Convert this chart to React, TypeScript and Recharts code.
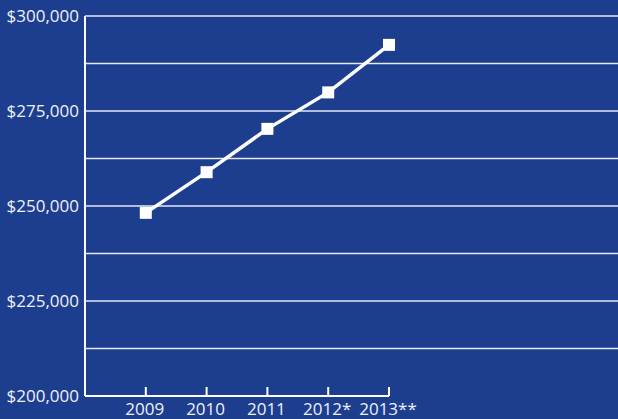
import { LineChart, Line, XAxis, YAxis, ReferenceLine } from 'recharts';

const years = ['2009', '2010', '2011', '2012*', '2013**'];
const values = [248200, 258900, 270300, 279900, 292400];
const yTicks = [200000, 212500, 225000, 237500, 250000, 262500, 275000, 287500, 300000];
const gridValues = [212500, 225000, 237500, 250000, 262500, 275000, 287500, 300000];

const data = years.map((label, i) => ({ x: i + 1, label, value: values[i] }));

const BG = '#1d3e8e';
const INK = '#eef1f8';
const FONT = '"Open Sans", Lato, sans-serif';

// tick mark points up into the plot, label hangs below the axis
function YearTick(props: any) {
  const { x, y, payload } = props;
  return (
    <g>
      <line x1={x} x2={x} y1={y} y2={y - 9} stroke="#ffffff" strokeWidth={2} />
      <text
        x={x - 1}
        y={y + 7}
        dy="0.71em"
        textAnchor="middle"
        fill={INK}
        style={{ fontSize: 17, fontFamily: FONT }}
      >
        {years[payload.value - 1]}
      </text>
    </g>
  );
}

function SquareDot(props: any) {
  const { cx, cy } = props;
  if (cx == null || cy == null) return null;
  return <rect x={cx - 6} y={cy - 6} width={12} height={12} fill="#ffffff" />;
}

export default function App() {
  return (
    <div style={{ position: 'absolute', left: 0, top: 0, width: 618, height: 419, background: BG }}>
      <LineChart width={618} height={419} data={data} margin={{ top: 16, right: 0, bottom: 0, left: 0 }}>
        <XAxis
          type="number"
          dataKey="x"
          domain={[0, 5]}
          ticks={[1, 2, 3, 4, 5]}
          padding={{ left: 0, right: 229 }}
          axisLine={false}
          tickLine={false}
          tickSize={0}
          tickMargin={0}
          height={23}
          tick={<YearTick />}
          interval={0}
        />
        <YAxis
          type="number"
          domain={[200000, 300000]}
          ticks={yTicks}
          width={85}
          interval={0}
          tickLine={false}
          tickSize={0}
          tickMargin={6}
          axisLine={{ stroke: '#ffffff', strokeWidth: 2 }}
          tickFormatter={(v: number) => (v % 25000 === 0 ? `$${v.toLocaleString('en-US')}` : '')}
          tick={{ fill: INK, fontSize: 17, fontFamily: FONT }}
        />
        {gridValues.map((v) => (
          <ReferenceLine key={v} y={v} stroke="#e4e9f4" strokeWidth={1.6} />
        ))}
        <ReferenceLine
          segment={[{ x: 0, y: 200000 }, { x: 5, y: 200000 }]}
          stroke="#ffffff"
          strokeWidth={2}
        />
        <Line
          type="linear"
          dataKey="value"
          stroke="#ffffff"
          strokeWidth={3.5}
          dot={<SquareDot />}
          activeDot={false}
          isAnimationActive={false}
        />
      </LineChart>
    </div>
  );
}
